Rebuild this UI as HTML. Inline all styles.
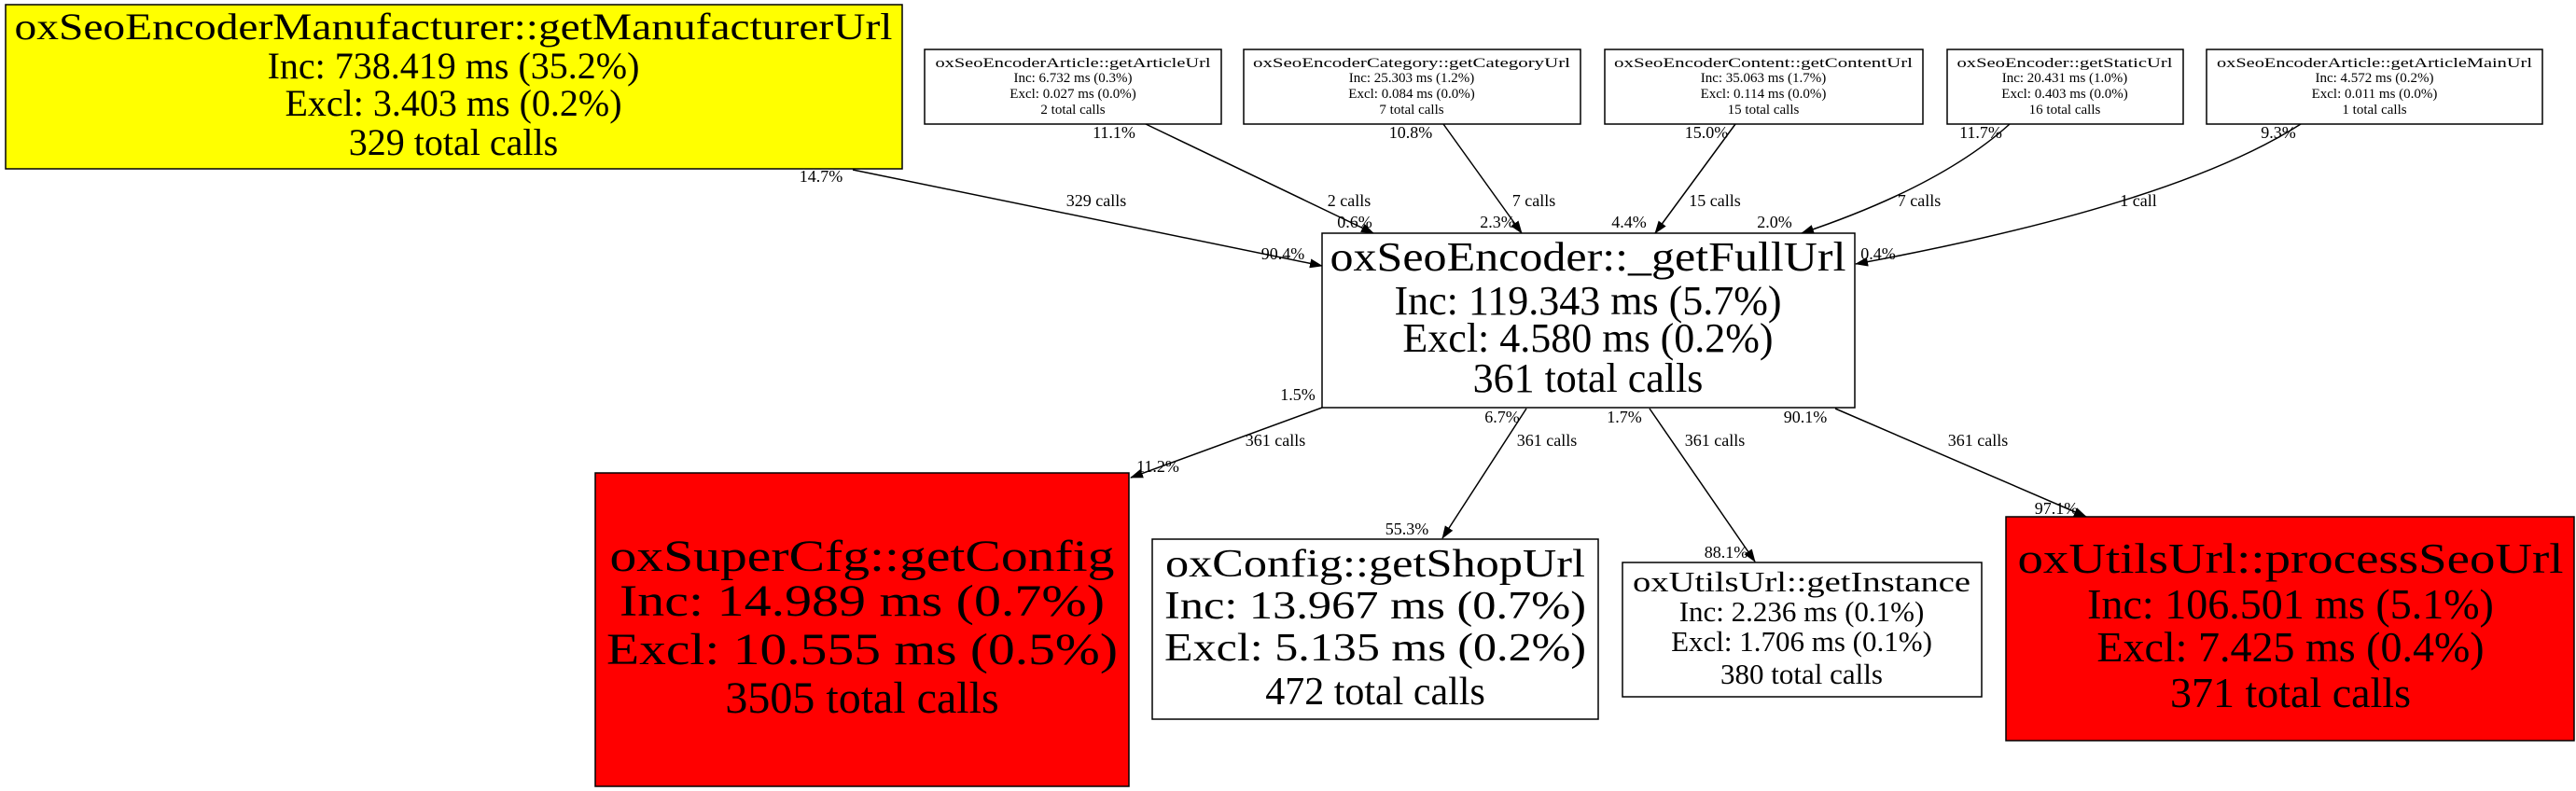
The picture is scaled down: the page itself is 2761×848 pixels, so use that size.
<!DOCTYPE html>
<html><head><meta charset="utf-8"><style>
html,body{margin:0;padding:0;background:#fff;}
svg{display:block;}
text{font-family:"Liberation Serif",serif;fill:#000;}
</style></head><body>
<svg width="2761" height="848" viewBox="0 0 2761 848" xmlns="http://www.w3.org/2000/svg">
<defs>
<marker id="a" markerWidth="14" markerHeight="10" refX="13" refY="5" orient="auto" markerUnits="userSpaceOnUse"><path d="M0,0 L14,5 L0,10 z" fill="#000"/></marker>
</defs>
<g fill="none" stroke="#000" stroke-width="1.5">
<path d="M914,182 L1417,285" marker-end="url(#a)"/>
<path d="M1228,133 L1472,250" marker-end="url(#a)"/>
<path d="M1547,133 L1631,250" marker-end="url(#a)"/>
<path d="M1860,133 L1774,250" marker-end="url(#a)"/>
<path d="M2154,133 Q2080,200 1931,250" marker-end="url(#a)"/>
<path d="M2466,133 Q2330,220 1989,283" marker-end="url(#a)"/>
<path d="M1417,437 L1212,512" marker-end="url(#a)"/>
<path d="M1636,438 L1546,577" marker-end="url(#a)"/>
<path d="M1768,438 L1881,602" marker-end="url(#a)"/>
<path d="M1967,438 L2236,554" marker-end="url(#a)"/>
</g>
<g stroke="#000" stroke-width="1.5">
<rect x="6" y="5" width="961" height="176" fill="#ffff00"/>
<rect x="991" y="53" width="318" height="80" fill="#fff"/>
<rect x="1333" y="53" width="361" height="80" fill="#fff"/>
<rect x="1720" y="53" width="341" height="80" fill="#fff"/>
<rect x="2087" y="53" width="253" height="80" fill="#fff"/>
<rect x="2365" y="53" width="360" height="80" fill="#fff"/>
<rect x="1417" y="250" width="571" height="187" fill="#fff"/>
<rect x="638" y="507" width="572" height="336" fill="#ff0000"/>
<rect x="1235" y="578" width="478" height="193" fill="#fff"/>
<rect x="1739" y="603" width="385" height="144" fill="#fff"/>
<rect x="2150" y="554" width="609" height="240" fill="#ff0000"/>
</g>
<g text-anchor="middle">
<g font-size="40">
<text x="486" y="42" textLength="941" lengthAdjust="spacingAndGlyphs">oxSeoEncoderManufacturer::getManufacturerUrl</text>
<text x="486" y="84">Inc: 738.419 ms (35.2%)</text>
<text x="486" y="124">Excl: 3.403 ms (0.2%)</text>
<text x="486" y="166">329 total calls</text>
</g>
<g font-size="15">
<text x="1150" y="72" textLength="295" lengthAdjust="spacingAndGlyphs">oxSeoEncoderArticle::getArticleUrl</text>
<text x="1150" y="88">Inc: 6.732 ms (0.3%)</text><text x="1150" y="105">Excl: 0.027 ms (0.0%)</text><text x="1150" y="122">2 total calls</text>
<text x="1513" y="72" textLength="340" lengthAdjust="spacingAndGlyphs">oxSeoEncoderCategory::getCategoryUrl</text>
<text x="1513" y="88">Inc: 25.303 ms (1.2%)</text><text x="1513" y="105">Excl: 0.084 ms (0.0%)</text><text x="1513" y="122">7 total calls</text>
<text x="1890" y="72" textLength="320" lengthAdjust="spacingAndGlyphs">oxSeoEncoderContent::getContentUrl</text>
<text x="1890" y="88">Inc: 35.063 ms (1.7%)</text><text x="1890" y="105">Excl: 0.114 ms (0.0%)</text><text x="1890" y="122">15 total calls</text>
<text x="2213" y="72" textLength="231" lengthAdjust="spacingAndGlyphs">oxSeoEncoder::getStaticUrl</text>
<text x="2213" y="88">Inc: 20.431 ms (1.0%)</text><text x="2213" y="105">Excl: 0.403 ms (0.0%)</text><text x="2213" y="122">16 total calls</text>
<text x="2545" y="72" textLength="338" lengthAdjust="spacingAndGlyphs">oxSeoEncoderArticle::getArticleMainUrl</text>
<text x="2545" y="88">Inc: 4.572 ms (0.2%)</text><text x="2545" y="105">Excl: 0.011 ms (0.0%)</text><text x="2545" y="122">1 total calls</text>
</g>
<g font-size="44">
<text x="1702" y="290" textLength="553" lengthAdjust="spacingAndGlyphs">oxSeoEncoder::_getFullUrl</text>
<text x="1702" y="337">Inc: 119.343 ms (5.7%)</text>
<text x="1702" y="377">Excl: 4.580 ms (0.2%)</text>
<text x="1702" y="420">361 total calls</text>
</g>
<g font-size="48">
<text x="924" y="612" textLength="541" lengthAdjust="spacingAndGlyphs">oxSuperCfg::getConfig</text>
<text x="924" y="660" textLength="520" lengthAdjust="spacingAndGlyphs">Inc: 14.989 ms (0.7%)</text>
<text x="924" y="712" textLength="548" lengthAdjust="spacingAndGlyphs">Excl: 10.555 ms (0.5%)</text>
<text x="924" y="764">3505 total calls</text>
</g>
<g font-size="42">
<text x="1474" y="618" textLength="450" lengthAdjust="spacingAndGlyphs">oxConfig::getShopUrl</text>
<text x="1474" y="663" textLength="452" lengthAdjust="spacingAndGlyphs">Inc: 13.967 ms (0.7%)</text>
<text x="1474" y="708" textLength="452" lengthAdjust="spacingAndGlyphs">Excl: 5.135 ms (0.2%)</text>
<text x="1474" y="755">472 total calls</text>
</g>
<g font-size="31">
<text x="1931" y="634" textLength="362" lengthAdjust="spacingAndGlyphs">oxUtilsUrl::getInstance</text>
<text x="1931" y="666">Inc: 2.236 ms (0.1%)</text>
<text x="1931" y="698">Excl: 1.706 ms (0.1%)</text>
<text x="1931" y="733">380 total calls</text>
</g>
<g font-size="46">
<text x="2455" y="614" textLength="585" lengthAdjust="spacingAndGlyphs">oxUtilsUrl::processSeoUrl</text>
<text x="2455" y="663">Inc: 106.501 ms (5.1%)</text>
<text x="2455" y="709">Excl: 7.425 ms (0.4%)</text>
<text x="2455" y="758">371 total calls</text>
</g>
<g font-size="18">
<text x="880" y="195">14.7%</text><text x="1175" y="221">329 calls</text><text x="1375" y="278">90.4%</text>
<text x="1194" y="148">11.1%</text><text x="1446" y="221">2 calls</text><text x="1452" y="244">0.6%</text>
<text x="1512" y="148">10.8%</text><text x="1644" y="221">7 calls</text><text x="1605" y="244">2.3%</text>
<text x="1829" y="148">15.0%</text><text x="1838" y="221">15 calls</text><text x="1746" y="244">4.4%</text>
<text x="2123" y="148">11.7%</text><text x="2057" y="221">7 calls</text><text x="1902" y="244">2.0%</text>
<text x="2442" y="148">9.3%</text><text x="2292" y="221">1 call</text><text x="2013" y="278">0.4%</text>
<text x="1391" y="429">1.5%</text><text x="1367" y="478">361 calls</text><text x="1241" y="506">11.2%</text>
<text x="1610" y="453">6.7%</text><text x="1658" y="478">361 calls</text><text x="1508" y="573">55.3%</text>
<text x="1741" y="453">1.7%</text><text x="1838" y="478">361 calls</text><text x="1850" y="598">88.1%</text>
<text x="1935" y="453">90.1%</text><text x="2120" y="478">361 calls</text><text x="2204" y="551">97.1%</text>
</g>
</g>
</svg>
</body></html>
